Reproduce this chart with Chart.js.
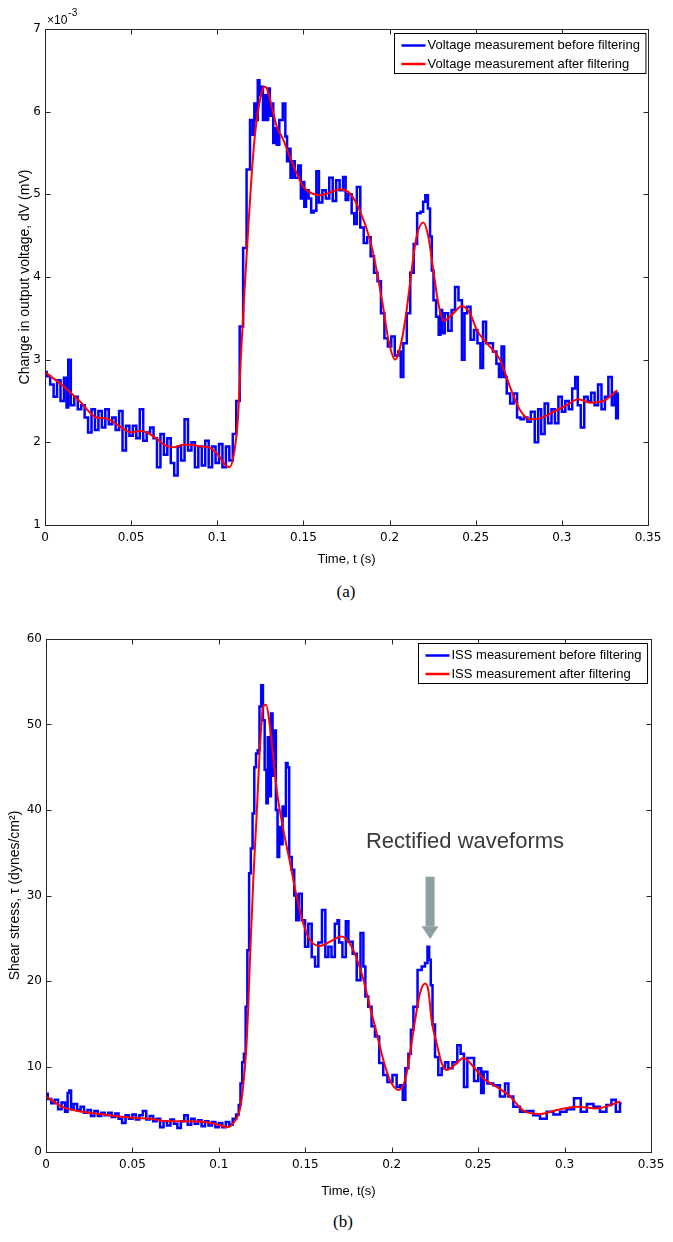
<!DOCTYPE html>
<html>
<head>
<meta charset="utf-8">
<script src="https://cdn.jsdelivr.net/npm/chart.js@4.4.1/dist/chart.umd.min.js"></script>
<style>
  body { margin: 0; background: #fff; width: 673px; height: 1242px; position: relative; overflow: hidden; }
  .box { position: absolute; left: 0; width: 673px; }
  #boxA { top: 0; height: 575px; }
  #boxB { top: 600px; height: 610px; }
  .cap { position: absolute; width: 60px; text-align: center; font: 17px "Liberation Serif", "Times New Roman", serif; color: #000; }
</style>
</head>
<body>
<div class="box" id="boxA"><canvas id="chartA"></canvas></div>
<div class="cap" style="left:316px; top:582px;">(a)</div>
<div class="box" id="boxB"><canvas id="chartB"></canvas></div>
<div class="cap" style="left:313px; top:1212px;">(b)</div>
<script>
// ============================================================
// DATA  (time in s ; voltage in 1e-3 mV ; shear stress in dynes/cm2)
// ============================================================
var voltageRaw = [
  [0,2.85],[0.002,2.80],[0.004,2.70],[0.006,2.55],[0.008,2.75],[0.010,2.50],[0.012,2.78],[0.013,2.42],
  [0.014,3.00],[0.016,2.45],[0.018,2.55],[0.020,2.40],[0.022,2.45],[0.024,2.30],[0.026,2.12],[0.028,2.40],
  [0.030,2.15],[0.032,2.38],[0.034,2.18],[0.036,2.40],[0.038,2.22],[0.040,2.30],[0.042,2.15],[0.044,2.38],
  [0.046,1.90],[0.048,2.20],[0.050,2.08],[0.052,2.20],[0.054,2.05],[0.056,2.40],[0.058,2.02],[0.060,2.12],
  [0.062,2.18],[0.064,2.05],[0.066,1.70],[0.068,2.10],[0.070,1.85],[0.072,2.05],[0.074,1.75],[0.076,1.60],
  [0.078,1.95],[0.080,1.78],[0.082,2.28],[0.084,1.90],[0.086,2.00],[0.088,1.70],[0.090,1.95],[0.092,1.72],
  [0.094,2.02],[0.096,1.70],[0.098,1.95],[0.100,1.75],[0.102,1.98],[0.104,1.70],[0.106,1.95],[0.108,1.78],
  [0.110,2.10],[0.112,2.50],[0.114,3.40],[0.116,4.35],[0.118,5.30],[0.120,5.90],[0.121,5.72],[0.122,6.10],
  [0.123,5.90],[0.124,6.38],[0.125,6.20],[0.126,6.30],[0.127,5.90],[0.128,6.20],[0.129,5.90],[0.130,6.28],
  [0.131,5.95],[0.132,6.10],[0.133,5.62],[0.134,5.80],[0.135,5.60],[0.137,5.90],[0.139,6.10],[0.140,5.70],
  [0.141,5.40],[0.142,5.55],[0.143,5.20],[0.144,5.40],[0.146,5.20],[0.148,5.35],[0.149,4.95],[0.150,5.15],
  [0.151,4.85],[0.152,5.05],[0.154,4.95],[0.155,4.78],[0.157,4.80],[0.158,5.28],[0.160,4.90],[0.162,5.05],
  [0.164,4.95],[0.166,5.20],[0.168,4.92],[0.170,5.17],[0.172,5.05],[0.174,5.21],[0.175,4.93],[0.177,5.00],
  [0.179,4.77],[0.180,4.64],[0.182,5.09],[0.184,4.60],[0.186,4.41],[0.188,4.48],[0.190,4.25],[0.192,4.05],
  [0.194,3.95],[0.196,3.56],[0.198,3.26],[0.200,3.16],[0.202,3.28],[0.204,3.05],[0.206,3.10],[0.207,2.79],
  [0.209,3.20],[0.211,3.56],[0.213,4.05],[0.215,4.40],[0.217,4.77],[0.219,4.79],[0.220,4.91],[0.2215,4.99],
  [0.223,4.83],[0.224,4.49],[0.225,4.08],[0.226,3.72],[0.228,3.52],[0.229,3.30],[0.230,3.60],[0.231,3.32],
  [0.233,3.56],[0.235,3.35],[0.237,3.60],[0.239,3.88],[0.241,3.72],[0.243,3.00],[0.244,3.56],[0.246,3.64],
  [0.248,3.24],[0.250,3.36],[0.252,3.20],[0.2535,2.90],[0.255,3.46],[0.257,3.20],[0.259,3.20],[0.261,3.10],
  [0.263,2.95],[0.264,2.79],[0.266,3.16],[0.267,2.79],[0.269,2.59],[0.271,2.47],[0.273,2.59],[0.275,2.30],
  [0.277,2.28],[0.279,2.30],[0.281,2.25],[0.283,2.37],[0.2855,2.00],[0.287,2.40],[0.289,2.10],[0.291,2.47],
  [0.293,2.23],[0.295,2.40],[0.297,2.23],[0.299,2.55],[0.301,2.37],[0.303,2.50],[0.305,2.40],[0.307,2.65],
  [0.3085,2.79],[0.310,2.45],[0.312,2.18],[0.314,2.55],[0.316,2.50],[0.318,2.60],[0.320,2.45],[0.322,2.70],
  [0.324,2.40],[0.326,2.55],[0.328,2.79],[0.330,2.45],[0.331,2.60],[0.332,2.29],[0.333,2.59]
];
var voltageFilt = [
  [0,2.85],[0.010,2.69],[0.020,2.50],[0.030,2.30],[0.035,2.29],[0.040,2.24],[0.045,2.17],[0.050,2.12],
  [0.055,2.14],[0.060,2.11],[0.065,2.04],[0.070,1.96],[0.075,1.94],[0.080,1.97],[0.085,1.97],[0.090,1.95],
  [0.095,1.94],[0.100,1.86],[0.105,1.72],[0.107,1.70],[0.110,1.90],[0.112,2.30],[0.114,3.15],[0.116,3.90],
  [0.118,4.60],[0.120,5.25],[0.122,5.75],[0.124,6.05],[0.126,6.25],[0.1275,6.30],[0.129,6.27],[0.1315,6.07],
  [0.1344,5.83],[0.1383,5.66],[0.1421,5.46],[0.146,5.26],[0.150,5.09],[0.155,5.01],[0.160,4.99],[0.165,5.02],
  [0.171,5.06],[0.177,5.01],[0.1828,4.80],[0.1886,4.45],[0.1925,4.08],[0.1964,3.62],[0.1993,3.24],[0.2032,3.00],
  [0.2071,3.24],[0.2099,3.60],[0.2128,4.08],[0.2157,4.49],[0.2196,4.66],[0.2225,4.49],[0.2254,4.08],[0.2283,3.68],
  [0.2315,3.47],[0.237,3.56],[0.2419,3.65],[0.2467,3.56],[0.2506,3.36],[0.2564,3.20],[0.2641,3.00],[0.2699,2.67],
  [0.2757,2.39],[0.2815,2.28],[0.2873,2.29],[0.2951,2.37],[0.3028,2.45],[0.3096,2.52],[0.3164,2.48],[0.3241,2.50],
  [0.3322,2.63]
];
var stressRaw = [
  [0,6.8],[0.002,6.2],[0.004,5.7],[0.006,6.1],[0.008,5.0],[0.010,5.8],[0.012,4.7],[0.013,6.9],[0.014,7.2],
  [0.015,5.0],[0.017,5.6],[0.019,4.9],[0.021,5.3],[0.023,4.6],[0.025,4.9],[0.027,4.2],[0.029,4.8],[0.031,4.2],
  [0.033,4.6],[0.035,4.3],[0.037,4.6],[0.039,4.1],[0.041,4.5],[0.043,3.9],[0.045,3.4],[0.047,4.3],[0.049,3.9],
  [0.051,4.4],[0.053,3.8],[0.055,4.3],[0.057,4.8],[0.059,3.8],[0.061,4.2],[0.063,3.6],[0.065,3.9],[0.067,2.9],
  [0.069,3.6],[0.071,3.1],[0.073,3.8],[0.075,3.3],[0.077,2.8],[0.079,3.6],[0.081,4.3],[0.083,3.2],[0.085,3.9],
  [0.087,3.3],[0.089,3.7],[0.091,3.0],[0.093,3.6],[0.095,3.1],[0.097,3.5],[0.099,2.9],[0.101,3.4],[0.103,2.9],
  [0.105,3.5],[0.107,3.2],[0.109,3.9],[0.111,4.4],[0.112,5.5],[0.113,8.0],[0.114,10.5],[0.115,11.5],[0.116,17.0],
  [0.117,23.6],[0.118,32.6],[0.119,35.5],[0.120,39.6],[0.121,45.0],[0.122,46.6],[0.123,47.0],[0.124,52.1],
  [0.125,54.6],[0.126,50.5],[0.127,44.7],[0.128,40.8],[0.1286,48.5],[0.1296,41.6],[0.1306,51.3],[0.1315,44.0],
  [0.1325,49.3],[0.1335,40.0],[0.1344,34.5],[0.1354,38.0],[0.1364,36.0],[0.1373,40.4],[0.1383,39.3],[0.1393,45.5],
  [0.1402,45.0],[0.1412,34.5],[0.1431,33.0],[0.1441,30.0],[0.1454,27.1],[0.147,30.2],[0.1489,27.1],[0.1508,24.0],
  [0.1527,26.7],[0.1547,22.8],[0.1566,21.7],[0.1585,24.5],[0.1608,28.3],[0.1624,22.8],[0.1643,24.0],[0.166,22.8],
  [0.1682,26.7],[0.1691,27.1],[0.170,24.5],[0.173,22.8],[0.1739,27.0],[0.176,24.6],[0.1788,23.2],[0.1807,20.1],
  [0.1832,25.6],[0.184,21.7],[0.1855,18.2],[0.1874,17.0],[0.1893,14.7],[0.1913,13.5],[0.1942,10.4],[0.196,9.0],
  [0.199,8.2],[0.2019,9.0],[0.2038,7.6],[0.2057,7.8],[0.2071,6.1],[0.2087,9.8],[0.2106,11.5],[0.2116,14.3],
  [0.2135,17.0],[0.2164,21.3],[0.2183,21.7],[0.2202,22.1],[0.2212,24.0],[0.2221,22.5],[0.2231,19.5],[0.2241,14.9],
  [0.226,11.1],[0.2279,9.0],[0.2299,9.8],[0.2318,10.5],[0.2337,9.8],[0.2366,10.5],[0.2393,12.5],[0.2404,11.5],
  [0.2432,7.6],[0.2443,11.0],[0.2462,11.0],[0.2491,8.3],[0.251,9.8],[0.2525,6.9],[0.2539,9.4],[0.2568,8.0],
  [0.2607,7.8],[0.2645,6.5],[0.2666,8.0],[0.2684,6.5],[0.2723,5.3],[0.2761,4.7],[0.280,4.8],[0.2839,4.3],
  [0.2877,3.9],[0.2916,4.7],[0.2955,4.4],[0.2993,4.7],[0.303,5.0],[0.3079,6.3],[0.3108,4.7],[0.315,5.6],
  [0.3185,5.3],[0.3224,4.7],[0.326,5.5],[0.3282,6.1],[0.3311,4.7],[0.333,5.7]
];
var stressFilt = [
  [0,6.52],[0.0097,5.24],[0.020,4.74],[0.0297,4.47],[0.041,4.19],[0.051,4.00],[0.0607,3.88],[0.0703,3.61],
  [0.080,3.61],[0.0897,3.57],[0.0975,3.30],[0.1052,2.91],[0.1091,3.57],[0.112,4.85],[0.114,7.57],[0.1159,12.2],
  [0.117,17.0],[0.118,22.5],[0.120,32.2],[0.1219,39.6],[0.1238,47.4],[0.1257,52.1],[0.1273,52.3],[0.1296,49.7],
  [0.1315,46.2],[0.1335,42.3],[0.1373,37.7],[0.1412,33.8],[0.145,29.9],[0.1489,26.7],[0.1527,24.8],[0.1585,24.1],
  [0.1643,24.6],[0.171,25.2],[0.1768,24.0],[0.1826,20.9],[0.1874,17.0],[0.1913,13.9],[0.1951,10.8],[0.199,8.4],
  [0.2038,7.25],[0.2077,8.4],[0.2106,11.5],[0.2135,15.4],[0.2164,18.6],[0.2193,19.7],[0.2212,18.9],[0.2231,15.4],
  [0.226,12.7],[0.2289,10.4],[0.2318,9.6],[0.2366,10.2],[0.2414,11.0],[0.2472,10.0],[0.253,8.6],[0.2608,7.6],
  [0.2685,6.5],[0.2762,4.83],[0.2858,4.44],[0.2955,4.91],[0.307,5.30],[0.3186,5.10],[0.3321,5.90]
];

var xTicks = [0, 0.05, 0.1, 0.15, 0.2, 0.25, 0.3, 0.35];
var yTicksA = [1, 2, 3, 4, 5, 6, 7];
var yTicksB = [0, 10, 20, 30, 40, 50, 60];
var labelsA = ['Voltage measurement before filtering', 'Voltage measurement after filtering'];
var labelsB = ['ISS measurement before filtering', 'ISS measurement after filtering'];
// annotation in panel (b): text anchor and arrow (data units)
var noteText = 'Rectified waveforms';
var notePos = [0.2424, 36.3];
var arrowPos = [0.2222, 32.2, 26.4, 24.9]; // x, shaft top, head base, tip

var BLUE = '#0000ff', RED = '#ff0000';
var SANS = '"Liberation Sans", Arial, sans-serif';

function toXY(pairs) { return pairs.map(function (p) { return { x: p[0], y: p[1] }; }); }
function fmtTick(v) { return String(Math.round(v * 100) / 100); }

// MATLAB-style box, inward ticks and boxed legend inside the axes
var matlabAxes = {
  id: 'matlabAxes',
  afterDraw: function (chart, args, opts) {
    var ctx = chart.ctx, a = chart.chartArea;
    var xs = chart.scales.x, ys = chart.scales.y;
    ctx.save();

    // annotation (panel b)
    if (opts.note) {
      ctx.fillStyle = '#3a3a3a';
      ctx.font = '22px ' + SANS;
      ctx.textAlign = 'center';
      ctx.textBaseline = 'middle';
      ctx.fillText(noteText, xs.getPixelForValue(notePos[0]), ys.getPixelForValue(notePos[1]));
      var ax = xs.getPixelForValue(arrowPos[0]);
      var y1 = ys.getPixelForValue(arrowPos[1]), y2 = ys.getPixelForValue(arrowPos[2]), y3 = ys.getPixelForValue(arrowPos[3]);
      ctx.fillStyle = '#8ea1a1';
      ctx.fillRect(ax - 4.5, y1, 9, y2 - y1);
      ctx.beginPath();
      ctx.moveTo(ax - 8.5, y2); ctx.lineTo(ax + 8.5, y2); ctx.lineTo(ax, y3); ctx.closePath();
      ctx.fill();
    }

    // frame + inward ticks
    ctx.strokeStyle = '#262626';
    ctx.lineWidth = 1;
    var L = Math.round(a.left) + 0.5, R = Math.round(a.right) + 0.5, T = Math.round(a.top) + 0.5, B = Math.round(a.bottom) + 0.5;
    ctx.strokeRect(L, T, R - L, B - T);
    ctx.beginPath();
    xs.ticks.forEach(function (t) {
      var px = Math.round(xs.getPixelForValue(t.value)) + 0.5;
      if (px < L + 2 || px > R - 2) return;
      ctx.moveTo(px, B); ctx.lineTo(px, B - 5);
      ctx.moveTo(px, T); ctx.lineTo(px, T + 5);
    });
    ys.ticks.forEach(function (t) {
      var py = Math.round(ys.getPixelForValue(t.value)) + 0.5;
      if (py < T + 2 || py > B - 2) return;
      ctx.moveTo(L, py); ctx.lineTo(L + 5, py);
      ctx.moveTo(R, py); ctx.lineTo(R - 5, py);
    });
    ctx.stroke();

    // x10^-3 multiplier (panel a)
    if (opts.exponent) {
      ctx.fillStyle = '#000';
      ctx.textAlign = 'left';
      ctx.textBaseline = 'alphabetic';
      ctx.font = '12px ' + SANS;
      ctx.fillText('\u00d710', a.left + 2, a.top - 5);
      var w = ctx.measureText('\u00d710').width;
      ctx.font = '10px ' + SANS;
      ctx.fillText('-3', a.left + 3 + w, a.top - 13);
    }

    // legend
    ctx.font = '13px ' + SANS;
    var ds = chart.data.datasets;
    var tw = 0;
    ds.forEach(function (d) { tw = Math.max(tw, ctx.measureText(d.label).width); });
    var bw = 7 + 24 + 3 + tw + 5, bh = 40;
    var x0 = Math.round(a.right - opts.legendInset - bw) + 0.5, y0 = Math.round(a.top + 4) + 0.5;
    ctx.fillStyle = '#fff';
    ctx.fillRect(x0, y0, bw, bh);
    ctx.strokeStyle = '#000';
    ctx.strokeRect(x0, y0, bw, bh);
    ds.forEach(function (d, i) {
      var y = y0 + 12 + i * 18.5;
      ctx.strokeStyle = d.borderColor;
      ctx.lineWidth = 2.5;
      ctx.beginPath(); ctx.moveTo(x0 + 7, y); ctx.lineTo(x0 + 31, y); ctx.stroke();
      ctx.fillStyle = '#000';
      ctx.textAlign = 'left';
      ctx.textBaseline = 'middle';
      ctx.fillText(d.label, x0 + 33, y);
    });
    ctx.restore();
  }
};

function makeChart(id, cfg) {
  return new Chart(document.getElementById(id), {
    type: 'line',
    data: {
      datasets: [
        { label: cfg.labels[0], data: toXY(cfg.raw), borderColor: BLUE, borderWidth: 2.5, pointRadius: 0, stepped: 'middle', order: 2 },
        { label: cfg.labels[1], data: toXY(cfg.filt), borderColor: RED, borderWidth: 2, pointRadius: 0, cubicInterpolationMode: 'monotone', order: 1 }
      ]
    },
    options: {
      responsive: true,
      maintainAspectRatio: false,
      animation: false,
      events: [],
      layout: { padding: cfg.padding },
      plugins: {
        legend: { display: false },
        tooltip: { enabled: false },
        matlabAxes: { note: cfg.note, exponent: cfg.exponent, legendInset: cfg.legendInset }
      },
      scales: {
        x: {
          type: 'linear', min: 0, max: 0.35,
          afterBuildTicks: function (s) { s.ticks = xTicks.map(function (v) { return { value: v }; }); },
          afterFit: function (s) { s.height = cfg.xHeight; },
          grid: { display: false, drawTicks: false },
          border: { display: false },
          ticks: { color: '#000', font: { family: 'DejaVu Sans', size: 12 }, padding: 6, maxRotation: 0, autoSkip: false, callback: fmtTick },
          title: { display: true, text: cfg.xTitle, color: '#000', font: { family: SANS, size: 13 }, padding: { top: 0, bottom: cfg.xTitlePad } }
        },
        y: {
          type: 'linear', min: cfg.yTicks[0], max: cfg.yTicks[cfg.yTicks.length - 1],
          afterBuildTicks: function (s) { s.ticks = cfg.yTicks.map(function (v) { return { value: v }; }); },
          afterFit: function (s) { s.width = cfg.yWidth; },
          grid: { display: false, drawTicks: false },
          border: { display: false },
          ticks: { color: '#000', font: { family: 'DejaVu Sans', size: 12 }, padding: 4, callback: fmtTick },
          title: { display: true, text: cfg.yTitle, color: '#000', font: { family: SANS, size: 14 }, padding: { top: cfg.yTitlePad, bottom: 0 } }
        }
      }
    },
    plugins: [matlabAxes]
  });
}

makeChart('chartA', {
  raw: voltageRaw, filt: voltageFilt, labels: labelsA, yTicks: yTicksA,
  padding: { top: 29, right: 25, left: 0, bottom: 0 },
  xHeight: 50, yWidth: 45, xTitlePad: 8, yTitlePad: 17, legendInset: 3,
  xTitle: 'Time, t (s)', yTitle: 'Change in output voltage, dV (mV)',
  exponent: true, note: false
});

makeChart('chartB', {
  raw: stressRaw, filt: stressFilt, labels: labelsB, yTicks: yTicksB,
  padding: { top: 39, right: 22, left: 0, bottom: 0 },
  xHeight: 58, yWidth: 46, xTitlePad: 11, yTitlePad: 7, legendInset: 4,
  xTitle: 'Time, t(s)', yTitle: 'Shear stress, \u03c4 (dynes/cm\u00b2)',
  exponent: false, note: true
});
</script>
</body>
</html>
